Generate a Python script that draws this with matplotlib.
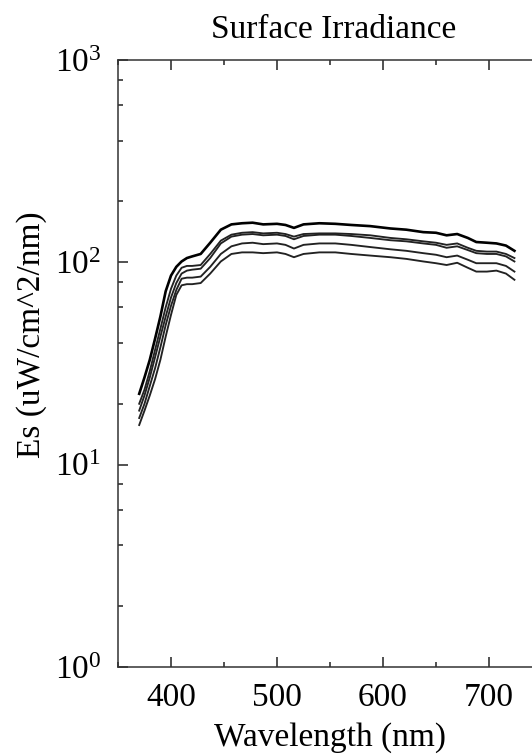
import matplotlib
matplotlib.use("Agg")
import matplotlib.pyplot as plt
from matplotlib.ticker import MultipleLocator, LogLocator, NullFormatter

plt.rcParams["font.family"] = ["Liberation Serif", "DejaVu Serif"]
plt.rcParams["mathtext.fontset"] = "custom"
plt.rcParams["mathtext.rm"] = "Liberation Serif"
plt.rcParams["mathtext.it"] = "Liberation Serif:italic"

# wavelength grid (nm)
wavelength = [370, 375, 380, 385, 390, 395, 400, 405, 410, 415, 420, 428, 437,
              447, 457, 467, 477, 487, 500, 508, 516, 525, 540, 555, 570, 588,
              607, 622, 638, 650, 660, 670, 680, 688, 698, 707, 716, 724]

# surface irradiance casts, uW/cm^2/nm
es_1 = [22.4, 27, 33, 42, 54, 72, 86, 95, 101, 105, 107, 110, 125,
        145, 154, 156, 157, 154, 155, 153, 148, 154, 156, 155, 153, 151,
        147, 145, 141, 140, 136, 138, 132, 126, 125, 124, 121, 114]
es_2 = [20, 23.5, 29, 37, 47, 60, 74, 86, 94, 96, 96, 97, 110,
        128, 137, 140, 141, 139, 140, 138, 134, 138, 139, 139, 138, 136,
        132, 130, 127, 125, 122, 124, 118, 114, 113, 113, 110, 105]
es_3 = [18.5, 22, 27, 34, 43, 54, 67, 79, 88, 91, 92, 93, 105,
        124, 134, 137, 138, 136, 137, 135, 130, 135, 137, 137, 135, 132,
        128.6, 127, 124, 122, 118, 120, 115, 111, 110, 110, 107, 101]
es_4 = [17, 20, 24.5, 30, 38, 49, 61, 73, 83, 84, 84, 85, 95,
        110, 120, 124, 125, 123, 124, 122, 117, 122, 124, 124, 122, 119,
        116, 114, 111, 109, 106, 108, 103, 99, 99, 99, 96, 90]
es_5 = [15.7, 18.5, 22, 26.5, 33, 43, 55, 69, 77, 78, 78, 79, 88,
        101, 110, 112, 112, 111, 112, 110, 106, 110, 112, 112, 110, 108,
        106, 104, 101, 99, 97, 99.5, 94, 90, 90, 91, 88, 82]

fig = plt.figure(figsize=(5.32, 7.55), dpi=100)
ax = fig.add_axes([118 / 532, 88 / 755, 424 / 532, 607 / 755])

ax.plot(wavelength, es_1, color="black", lw=1.9)
for es in [es_2, es_3, es_4, es_5]:
    ax.plot(wavelength, es, color="#222222", lw=1.35)

ax.set_yscale("log")
ax.set_xlim(350, 750)
ax.set_ylim(1, 1000)

ax.xaxis.set_major_locator(MultipleLocator(100))
ax.xaxis.set_minor_locator(MultipleLocator(50))
ax.yaxis.set_minor_locator(LogLocator(base=10, subs=(2, 4, 6, 8)))
ax.yaxis.set_minor_formatter(NullFormatter())

ax.tick_params(which="both", direction="in", top=True, right=True, labelsize=24,
               colors="#222222", labelcolor="black")
ax.tick_params(which="major", length=7, width=1.1)
ax.tick_params(which="minor", length=3.5, width=1.1)
ax.tick_params(axis="x", which="major", pad=11)
ax.tick_params(axis="y", which="major", pad=12)
for sp in ax.spines.values():
    sp.set_linewidth(1.1)
    sp.set_color("#333333")

ax.set_xlabel("Wavelength (nm)", fontsize=24, labelpad=7)
fig.text(32 / 532, 1 - 335 / 755, "Es (uW/cm^2/nm)", rotation=90,
         fontsize=24, ha="center", va="center")
fig.text(334 / 532, 1 - 30 / 755, "Surface Irradiance", fontsize=24,
         ha="center", va="center")

fig.savefig("out.png", dpi=100)
